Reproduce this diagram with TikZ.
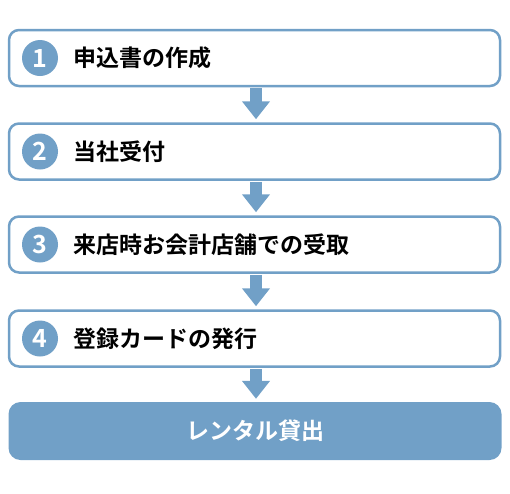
\documentclass[tikz,border=0pt]{standalone}
\usepackage{fontspec}
\setmainfont{Noto Sans CJK JP}[BoldFont={Noto Sans CJK JP Bold}]
\newfontfamily\jpb{Noto Sans CJK JP Bold}
\usetikzlibrary{arrows.meta}
\definecolor{flowblue}{RGB}{113,160,199}
\begin{document}
\begin{tikzpicture}[x=1pt,y=-1pt,
  stepbox/.style={draw=flowblue,line width=2.5pt,rounded corners=10pt,fill=white,
    minimum width=491pt,minimum height=56pt,inner sep=0pt},
  endbox/.style={fill=flowblue,rounded corners=12pt,minimum width=493pt,minimum height=58pt,
    inner sep=0pt,text=white,font=\jpb\fontsize{23}{27}\selectfont},
  numcirc/.style={circle,fill=flowblue,minimum size=36pt,inner sep=0pt,text=white,
    font=\jpb\fontsize{25}{28}\selectfont},
  steptext/.style={anchor=west,inner sep=0pt,font=\jpb\fontsize{23}{27}\selectfont},
  flowarrow/.style={draw=flowblue,line width=12pt,
    -{Triangle[width=27pt,length=18pt]},shorten >=3pt,shorten <=1pt}]
\useasboundingbox (0,0) rectangle (510,493);
\node[stepbox] (b1) at (254.5,58) {};
\node[stepbox] (b2) at (254.5,151.5) {};
\node[stepbox] (b3) at (254.5,244.5) {};
\node[stepbox] (b4) at (254.5,338.5) {};
\node[endbox] (b5) at (255,431) {レンタル貸出};
\node[numcirc] (c1) at (40,58) {1};
\node[numcirc] (c2) at (40,151.5) {2};
\node[numcirc] (c3) at (40,244.5) {3};
\node[numcirc] (c4) at (40,338.5) {4};
\node[steptext] (t1) at (73,58) {申込書の作成};
\node[steptext] (t2) at (73,151.5) {当社受付};
\node[steptext] (t3) at (73,244.5) {来店時お会計店舗での受取};
\node[steptext] (t4) at (73,338.5) {登録カードの発行};
\draw[flowarrow] (b1.south -| 256,0) -- (b2.north -| 256,0);
\draw[flowarrow] (b2.south -| 256,0) -- (b3.north -| 256,0);
\draw[flowarrow] (b3.south -| 256,0) -- (b4.north -| 256,0);
\draw[flowarrow] (b4.south -| 256,0) -- (b5.north -| 256,0);
\end{tikzpicture}
\end{document}
